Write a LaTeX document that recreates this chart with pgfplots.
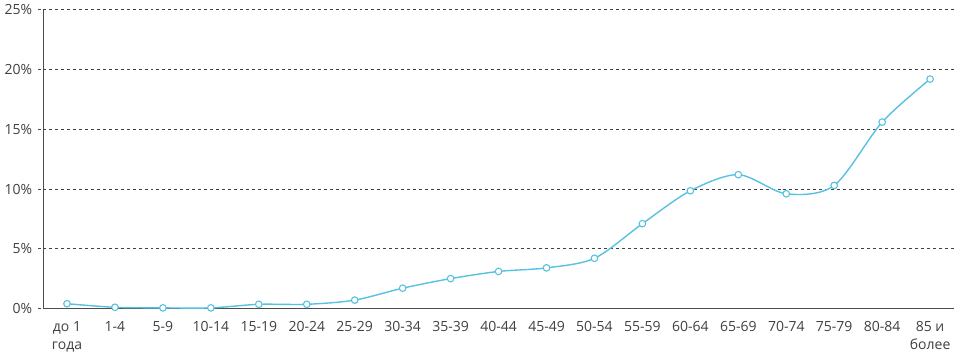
\documentclass[border=0pt]{standalone}
\usepackage{fontspec}
\setmainfont{Open Sans}
\usepackage{pgfplots}
\pgfplotsset{compat=1.18}
\definecolor{lineblue}{RGB}{86,193,225}
\definecolor{txt}{RGB}{64,64,64}
\begin{document}
\fontsize{14bp}{16bp}\selectfont
\begin{tikzpicture}
\begin{axis}[
  scale only axis,
  width=912bp, height=299bp,
  xmin=-0.5, xmax=18.5,
  ymin=0, ymax=25,
  axis x line*=bottom,
  axis y line*=left,
  axis line style={draw=black!70, line width=0.8pt},
  xtick={0,...,18},
  xticklabels={{до 1\\года},1-4,5-9,10-14,15-19,20-24,25-29,30-34,35-39,40-44,45-49,50-54,55-59,60-64,65-69,70-74,75-79,80-84,{85 и\\более}},
  x tick label style={align=center, text=txt, font=\fontsize{14bp}{18bp}\selectfont, yshift=-3bp},
  major x tick style={draw=none},
  ytick={0,5,10,15,20,25},
  yticklabels={0\%,5\%,10\%,15\%,20\%,25\%},
  y tick label style={text=txt, font=\fontsize{14bp}{16bp}\selectfont, xshift=-1bp},
  tick align=outside,
  major tick length=5bp,
  major y tick style={draw=black!70, dashed, line width=0.6pt},
  ymajorgrids,
  major grid style={draw=black!75, dashed, line width=0.6pt},
  clip=false,
]
\addplot[color=lineblue, line width=1.4pt, smooth, tension=0.5,
  mark=*, mark size=3.3bp, mark options={fill=white, draw=lineblue, line width=1.1pt}]
coordinates {
(0,0.4) (1,0.1) (2,0.05) (3,0.05) (4,0.35) (5,0.35) (6,0.7) (7,1.7) (8,2.5)
(9,3.1) (10,3.4) (11,4.2) (12,7.1) (13,9.85) (14,11.2) (15,9.6) (16,10.3) (17,15.6) (18,19.2)
};
\end{axis}
\end{tikzpicture}
\end{document}
